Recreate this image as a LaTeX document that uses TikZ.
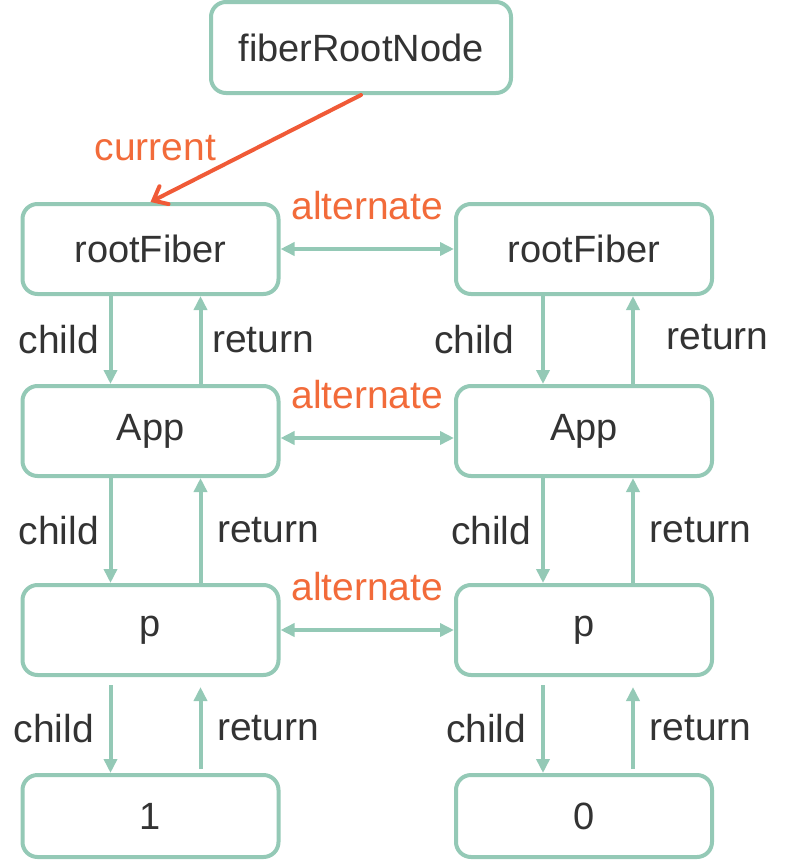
\documentclass[tikz,border=0pt]{standalone}
\usepackage{fontspec}
\setmainfont{Liberation Sans}
\usepackage{tikz}
\usetikzlibrary{arrows.meta}

\definecolor{boxgreen}{HTML}{94C9B6}
\definecolor{textdark}{HTML}{333333}
\definecolor{labelorange}{HTML}{F26B3A}
\definecolor{curred}{HTML}{F05A37}

\begin{document}
\begin{tikzpicture}[x=0.5pt,y=-0.5pt,
  fiber/.style={draw=boxgreen,line width=2pt,rounded corners=7.5pt,fill=white,
    minimum width=128pt,minimum height=45pt,text=textdark,
    font=\fontsize{19}{23}\selectfont},
  link/.style={draw=boxgreen,line width=2pt,-{Triangle[length=7pt,width=6.5pt]}},
  alt/.style={draw=boxgreen,line width=2pt,{Triangle[length=7pt,width=6.5pt]}-{Triangle[length=7pt,width=6.5pt]}},
  lbl/.style={text=textdark,font=\fontsize{19.5}{23}\selectfont},
  altlbl/.style={text=labelorange,font=\fontsize{19.5}{23}\selectfont}]
\useasboundingbox (0,0) rectangle (808,862);

% nodes
\node[fiber,minimum width=150pt,minimum height=45.5pt] (root) at (361,47.5) {fiberRootNode};
\node[fiber] (rfA) at (150.5,249) {rootFiber};
\node[fiber] (rfB) at (584,249) {rootFiber};
\node[fiber] (appA) at (150.5,431) {App};
\node[fiber] (appB) at (584,431) {App};
\node[fiber] (pA) at (150.5,630) {p};
\node[fiber] (pB) at (584,630) {p};
\node[fiber,minimum height=41pt] (txtA) at (150.5,816) {1};
\node[fiber,minimum height=41pt] (txtB) at (584,816) {0};

% current
\draw[curred,line width=2pt,line cap=round,-{Straight Barb[length=6pt,width=10pt,line cap=round]}]
  (root.south) -- (rfA.north) node[pos=0.5,left=15.5pt,altlbl] {current};

% alternate
\draw[alt] (rfA.east) -- (rfB.west) node[midway,yshift=21.5pt,altlbl] {alternate};
\draw[alt] ([yshift=-3.5pt]appA.east) -- ([yshift=-3.5pt]appB.west) node[midway,yshift=21.5pt,altlbl] {alternate};
\draw[alt] (pA.east) -- (pB.west) node[midway,yshift=21.5pt,altlbl] {alternate};

% child / return, left
\draw[link] ([xshift=-20pt]rfA.south) -- ([xshift=-20pt]appA.north) node[midway,left=1.5pt,lbl] {child};
\draw[link] ([xshift=25pt]appA.north) -- ([xshift=25pt]rfA.south) node[midway,right=1.5pt,lbl] {return};
\draw[link] ([xshift=-20pt]appA.south) -- ([xshift=-20pt]pA.north) node[midway,left=1.5pt,lbl] {child};
\draw[link] ([xshift=25pt]pA.north) -- ([xshift=25pt]appA.south) node[midway,right=4pt,lbl] {return};
\draw[link] ([xshift=-20pt,yshift=-4pt]pA.south) -- ([xshift=-20pt]txtA.north) node[midway,left=4pt,lbl] {child};
\draw[link] ([xshift=25pt,yshift=2pt]txtA.north) -- ([xshift=25pt,yshift=-5pt]pA.south) node[midway,right=4pt,lbl] {return};

% child / return, right
\draw[link] ([xshift=-20.5pt]rfB.south) -- ([xshift=-20.5pt]appB.north) node[midway,left=10pt,lbl] {child};
\draw[link] ([xshift=24.5pt]appB.north) -- ([xshift=24.5pt]rfB.south) node[midway,right=12.5pt,yshift=1.5pt,lbl] {return};
\draw[link] ([xshift=-20.5pt]appB.south) -- ([xshift=-20.5pt]pB.north) node[midway,left=1.5pt,lbl] {child};
\draw[link] ([xshift=24.5pt]pB.north) -- ([xshift=24.5pt]appB.south) node[midway,right=4pt,lbl] {return};
\draw[link] ([xshift=-20.5pt,yshift=-4pt]pB.south) -- ([xshift=-20.5pt]txtB.north) node[midway,left=4pt,lbl] {child};
\draw[link] ([xshift=24.5pt,yshift=2pt]txtB.north) -- ([xshift=24.5pt,yshift=-5pt]pB.south) node[midway,right=4pt,lbl] {return};
\end{tikzpicture}
\end{document}
